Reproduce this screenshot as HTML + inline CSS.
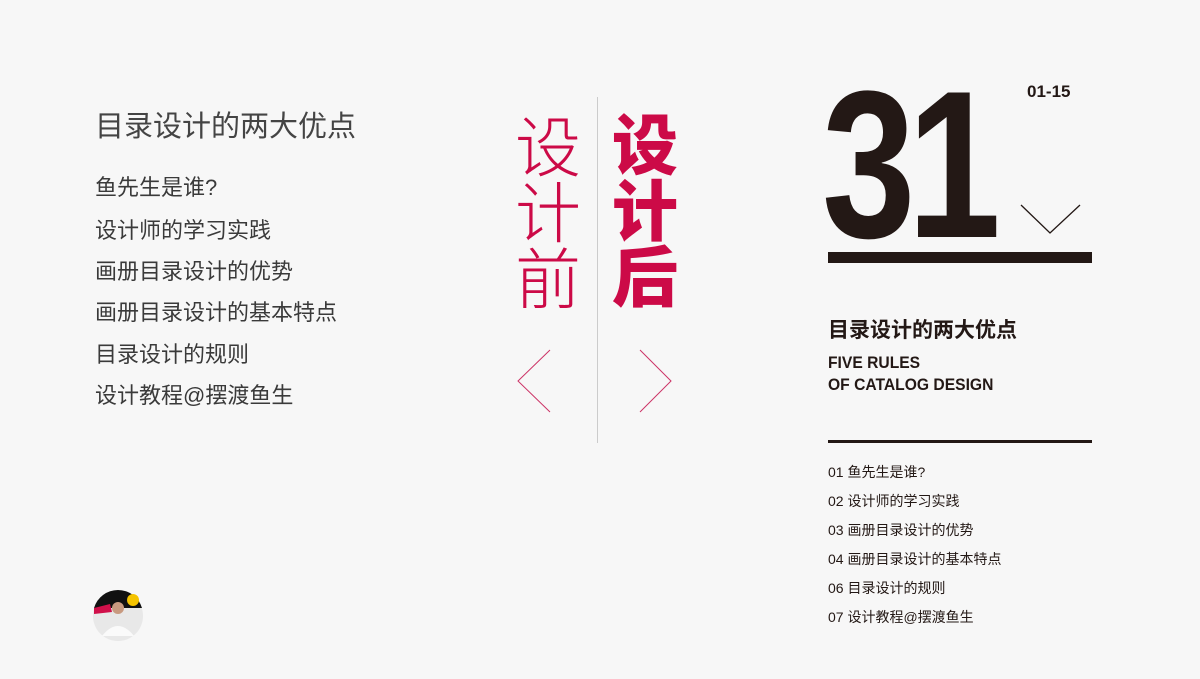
<!DOCTYPE html>
<html><head><meta charset="utf-8"><style>
body{margin:0;width:1200px;height:679px;background:#f7f7f7;overflow:hidden;position:relative;font-family:"Liberation Sans","Noto Sans CJK SC",sans-serif}
.a{position:absolute;white-space:nowrap;line-height:1}
.l{color:#3a3a3a;font-size:22px;left:95px}
.r{color:#231815;font-size:14px;left:828px}
.v{font-family:"Noto Sans CJK SC",sans-serif;color:#cc0a47;font-size:66px;line-height:66px;width:70px;text-align:center}
</style></head><body>
<div class="a" style="left:95px;top:113px;font-size:29px;color:#444">目录设计的两大优点</div>
<div class="a l" style="top:177px">鱼先生是谁?</div>
<div class="a l" style="top:220px">设计师的学习实践</div>
<div class="a l" style="top:261px">画册目录设计的优势</div>
<div class="a l" style="top:302px">画册目录设计的基本特点</div>
<div class="a l" style="top:344px">目录设计的规则</div>
<div class="a l" style="top:385px">设计教程@摆渡鱼生</div>

<div class="a v" style="left:513px;top:110px;font-weight:300">设<br>计<br>前</div>
<div class="a v" style="left:610px;top:108px;font-weight:900">设<br>计<br>后</div>
<div class="a" style="left:597px;top:97px;width:1px;height:346px;background:#ccc"></div>
<svg class="a" style="left:0;top:0" width="1200" height="679">
<polyline points="550,350 518,381 550,412" fill="none" stroke="#cc3366" stroke-width="1"/>
<polyline points="640,350 671,381 640,412" fill="none" stroke="#cc3366" stroke-width="1"/>
<polyline points="1021,205 1050,233 1080,205" fill="none" stroke="#231815" stroke-width="1.3"/>
<circle cx="118" cy="616" r="25" fill="#e8e8e8"/>
<path d="M94,608 A25,25 0 0 1 142,608 Z" fill="#111"/>
<path d="M94,608 L110,604 L112,612 L94,614 Z" fill="#d0104a"/>
<circle cx="133" cy="600" r="6" fill="#f5c400"/>
<circle cx="118" cy="608" r="6" fill="#c89a80"/>
<path d="M102,636 Q118,616 134,636 Z" fill="#fafafa"/>
</svg>

<div class="a" style="left:822px;top:60px;font-size:210px;font-weight:bold;color:#231815;transform:scaleX(0.8);transform-origin:left top;letter-spacing:-10px">31</div>
<div class="a" style="left:1027px;top:83px;font-size:17px;font-weight:bold;color:#231815">01-15</div>
<div class="a" style="left:828px;top:252px;width:264px;height:11px;background:#231815"></div>
<div class="a" style="left:828px;top:320px;font-size:21px;font-weight:bold;color:#231815">目录设计的两大优点</div>
<div class="a" style="left:828px;top:352px;font-size:17px;font-weight:bold;color:#231815;line-height:22px;transform:scaleX(0.92);transform-origin:left">FIVE RULES<br>OF CATALOG DESIGN</div>
<div class="a" style="left:828px;top:440px;width:264px;height:3px;background:#231815"></div>
<div class="a r" style="top:465px">01 鱼先生是谁?</div>
<div class="a r" style="top:494px">02 设计师的学习实践</div>
<div class="a r" style="top:523px">03 画册目录设计的优势</div>
<div class="a r" style="top:552px">04 画册目录设计的基本特点</div>
<div class="a r" style="top:581px">06 目录设计的规则</div>
<div class="a r" style="top:610px">07 设计教程@摆渡鱼生</div>
</body></html>
